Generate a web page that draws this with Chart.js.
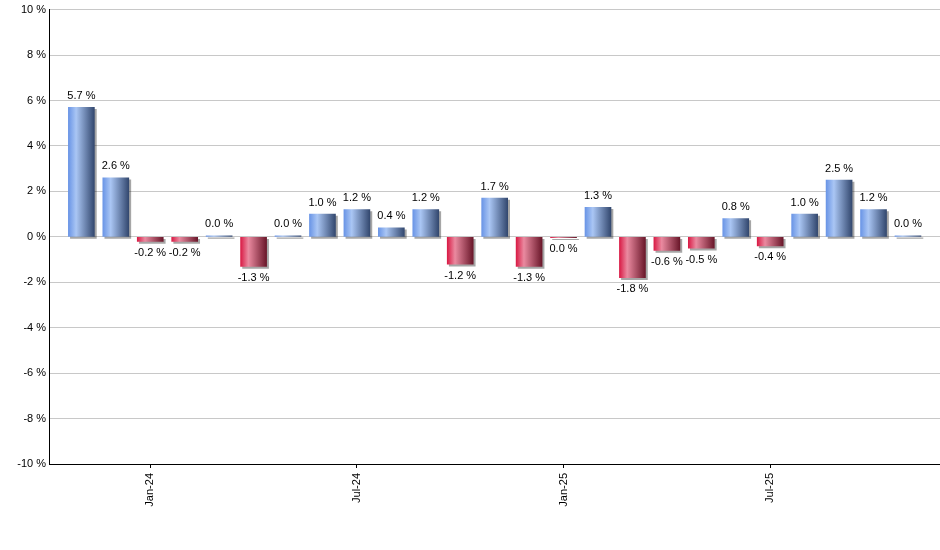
<!DOCTYPE html>
<html>
<head>
<meta charset="utf-8">
<script src="https://cdn.jsdelivr.net/npm/chart.js@4/dist/chart.umd.min.js"></script>
<style>
  html, body { margin: 0; padding: 0; background: #fff; }
  #wrap { width: 940px; height: 550px; }
</style>
</head>
<body>
<div id="wrap"><canvas id="chart"></canvas></div>
<script>
// monthly change, Nov-23 .. Nov-25
const months = ['Nov-23','Dec-23','Jan-24','Feb-24','Mar-24','Apr-24','May-24','Jun-24','Jul-24','Aug-24','Sep-24','Oct-24','Nov-24','Dec-24','Jan-25','Feb-25','Mar-25','Apr-25','May-25','Jun-25','Jul-25','Aug-25','Sep-25','Oct-25','Nov-25'];
const changes = [5.7, 2.6, -0.2, -0.2, 0.04, -1.3, 0.04, 1.0, 1.2, 0.4, 1.2, -1.2, 1.7, -1.3, -0.04, 1.3, -1.8, -0.6, -0.5, 0.8, -0.4, 1.0, 2.5, 1.2, 0.04];
const tickMonths = ['Jan-24', 'Jul-24', 'Jan-25', 'Jul-25'];
const yTicks = [-10, -8, -6, -4, -2, 0, 2, 4, 6, 8, 10];

const BAR_W = 26;
const FONT = 'Arial, "Liberation Sans", sans-serif';

function barFill(ctx) {
  const chart = ctx.chart;
  const xs = chart.scales.x;
  if (!xs || !chart.chartArea) return '#6e98e8';
  const cx = xs.getPixelForValue(ctx.dataIndex);
  const g = chart.ctx.createLinearGradient(cx - BAR_W / 2, 0, cx + BAR_W / 2, 0);
  if (changes[ctx.dataIndex] >= 0) {
    g.addColorStop(0, '#6a95e6');
    g.addColorStop(0.3, '#aac6f4');
    g.addColorStop(1, '#33486f');
  } else {
    g.addColorStop(0, '#d91c46');
    g.addColorStop(0.3, '#ea8aa0');
    g.addColorStop(1, '#6a172a');
  }
  return g;
}

const shadowPlugin = {
  id: 'barShadow',
  beforeDatasetsDraw(chart) {
    const c = chart.ctx;
    c.save();
    c.shadowColor = 'rgba(0,0,0,0.35)';
    c.shadowOffsetX = 2;
    c.shadowOffsetY = 2;
    c.shadowBlur = 0;
  },
  afterDatasetsDraw(chart) {
    chart.ctx.restore();
  }
};

const labelPlugin = {
  id: 'valueLabels',
  afterDatasetsDraw(chart) {
    const c = chart.ctx;
    const meta = chart.getDatasetMeta(0);
    c.save();
    c.font = '11px ' + FONT;
    c.fillStyle = '#000';
    c.textAlign = 'center';
    meta.data.forEach((bar, i) => {
      const v = changes[i];
      const txt = (Math.round(v * 10) / 10).toFixed(1) + ' %';
      if (v >= 0) {
        c.textBaseline = 'bottom';
        c.fillText(txt, bar.x, bar.y - 6);
      } else {
        c.textBaseline = 'top';
        c.fillText(txt, bar.x, bar.y + 6);
      }
    });
    c.restore();
  }
};

new Chart(document.getElementById('chart'), {
  type: 'bar',
  data: {
    datasets: [{
      data: changes.map((v, i) => ({ x: i, y: v })),
      backgroundColor: barFill,
      borderWidth: 0,
      barThickness: BAR_W
    }]
  },
  options: {
    responsive: true,
    maintainAspectRatio: false,
    animation: false,
    layout: { padding: { top: 9, right: 0, left: 0, bottom: 0 } },
    plugins: { legend: { display: false }, tooltip: { enabled: false } },
    scales: {
      x: {
        type: 'linear',
        offset: false,
        min: -0.94,
        max: 24.93,
        afterBuildTicks(axis) {
          axis.ticks = tickMonths.map(m => ({ value: months.indexOf(m) }));
        },
        afterFit(axis) { axis.height = 86; },
        ticks: {
          autoSkip: false,
          minRotation: 90,
          maxRotation: 90,
          padding: 5,
          color: '#000',
          font: { family: FONT, size: 11 },
          callback: v => months[v]
        },
        grid: { offset: false, drawOnChartArea: false, color: '#000', tickLength: 4 },
        border: { color: '#000', width: 1 }
      },
      y: {
        min: -10,
        max: 10,
        afterBuildTicks(axis) {
          axis.ticks = yTicks.map(v => ({ value: v }));
        },
        afterFit(axis) { axis.width = 49; },
        ticks: {
          color: '#000',
          padding: 3,
          font: { family: FONT, size: 11 },
          callback: v => v + ' %'
        },
        grid: { color: '#c8c8c8', drawTicks: false },
        border: { color: '#000', width: 1 }
      }
    }
  },
  plugins: [shadowPlugin, labelPlugin]
});
</script>
</body>
</html>
